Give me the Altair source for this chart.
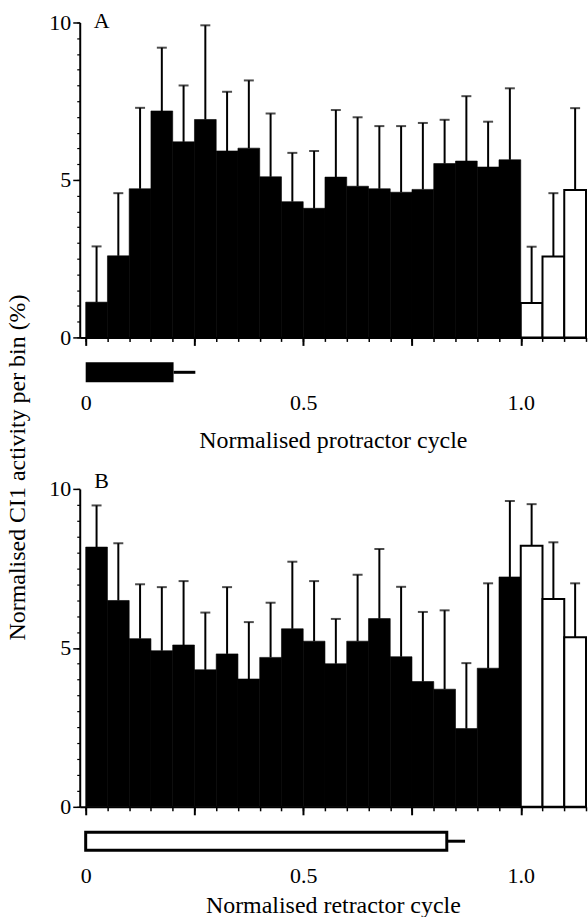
import altair as alt
import pandas as pd

FONT = "Liberation Serif, Times New Roman, Times, serif"

# Bin edges (normalised cycle), 0.05 wide
bin_starts = [0.00, 0.05, 0.10, 0.15, 0.20, 0.25, 0.30, 0.35, 0.40, 0.45,
              0.50, 0.55, 0.60, 0.65, 0.70, 0.75, 0.80, 0.85, 0.90, 0.95]
wrap_starts = [1.00, 1.05, 1.10]

# Panel A: protractor cycle
a_mean = [1.12, 2.59, 4.72, 7.19, 6.21, 6.92, 5.92, 6.01, 5.10, 4.31,
          4.10, 5.09, 4.80, 4.72, 4.61, 4.70, 5.52, 5.60, 5.41, 5.64]
a_upper = [2.89, 4.58, 7.29, 9.20, 8.00, 9.91, 7.80, 8.16, 7.11, 5.86,
           5.92, 7.22, 6.99, 6.71, 6.71, 6.81, 6.91, 7.66, 6.85, 7.91]
a_wrap_mean = [1.09, 2.57, 4.68]
a_wrap_upper = [2.88, 4.58, 7.28]

# Panel B: retractor cycle
b_mean = [8.17, 6.49, 5.29, 4.91, 5.09, 4.31, 4.81, 4.02, 4.70, 5.60,
          5.21, 4.50, 5.21, 5.92, 4.72, 3.94, 3.70, 2.46, 4.36, 7.23]
b_upper = [9.48, 8.29, 7.00, 6.91, 7.10, 6.11, 6.91, 5.81, 6.42, 7.71,
           7.10, 5.91, 7.30, 8.11, 6.92, 6.13, 6.18, 4.52, 7.03, 9.62]
b_wrap_mean = [8.21, 6.54, 5.33]
b_wrap_upper = [9.52, 8.32, 7.03]

# Phase indicators (start, end of bar, end of whisker)
a_phase = [0.0, 0.202, 0.252]
b_phase = [0.0, 0.830, 0.872]

x_minor_ticks = [0.00, 0.05, 0.10, 0.15, 0.20, 0.25, 0.30, 0.35, 0.40, 0.45,
                 0.50, 0.55, 0.60, 0.65, 0.70, 0.75, 0.80, 0.85, 0.90, 0.95,
                 1.00, 1.05, 1.10, 1.15]
x_major_ticks = [0.0, 0.25, 0.5, 0.75, 1.0]
y_major_ticks = [0, 5, 10]
y_minor_ticks = [0, 0.5, 1, 1.5, 2, 2.5, 3, 3.5, 4, 4.5, 5, 5.5, 6, 6.5,
                 7, 7.5, 8, 8.5, 9, 9.5, 10]

W = 508
BW = 0.05


def make_df(starts, mean, upper):
    return pd.DataFrame({
        "start": starts,
        "end": [s + BW for s in starts],
        "center": [s + BW / 2 for s in starts],
        "mean": mean,
        "upper": upper,
    })


def panel(mean, upper, wmean, wupper, phase, phase_filled, letter, letter_y,
          xtitle, ytitle, label_pad, title_pad, height):
    xs = alt.Scale(domain=[-0.0137, 1.15], nice=False, zero=False)
    ys = alt.Scale(domain=[0, 10], nice=False)

    main = make_df(bin_starts, mean, upper)
    wrap = make_df(wrap_starts, wmean, wupper)
    both = pd.concat([main, wrap], ignore_index=True)

    x_major_axis = alt.Axis(
        orient="bottom",
        values=x_major_ticks, tickSize=8, tickWidth=2, tickColor="black",
        domain=True, domainWidth=2, domainColor="black", grid=False,
        labelExpr="datum.value == 0 ? '0' : (datum.value == 0.5 ? '0.5' : (datum.value == 1 ? '1.0' : ''))",
        labelFont=FONT, labelFontSize=22, labelColor="black", labelPadding=label_pad,
        labelFlush=False, labelOverlap=False, labelBaseline="top",
        title=xtitle, titleFont=FONT, titleFontSize=24, titleFontWeight="normal",
        titleColor="black", titlePadding=title_pad,
    )
    x_minor_axis = alt.Axis(
        orient="bottom",
        values=x_minor_ticks, tickSize=4, tickWidth=1.5, tickColor="black",
        domain=False, labels=False, grid=False, title=None,
    )
    y_axis_kwargs = dict(
        orient="left",
        values=y_major_ticks, tickSize=7, tickWidth=1.5, tickColor="black",
        domain=True, domainWidth=2, domainColor="black", grid=False,
        labelFont=FONT, labelFontSize=22, labelColor="black", labelPadding=2,
        labelFlush=False,
    )
    if ytitle:
        y_major_axis = alt.Axis(
            title=ytitle, titleFont=FONT, titleFontSize=24, titleFontWeight="normal",
            titleColor="black", titleX=-62, titleY=446, titleAngle=270,
            titleAlign="center", titleBaseline="middle", **y_axis_kwargs)
    else:
        y_major_axis = alt.Axis(title=None, **y_axis_kwargs)
    y_minor_axis = alt.Axis(
        orient="left",
        values=y_minor_ticks, tickSize=3, tickWidth=1.2, tickColor="black",
        domain=False, labels=False, grid=False, title=None,
    )

    black_bars = alt.Chart(main).mark_rect(
        color="black", stroke="black", strokeWidth=0.6
    ).encode(
        x=alt.X("start:Q", scale=xs, axis=x_major_axis),
        x2="end:Q",
        y=alt.Y("mean:Q", scale=ys, axis=y_major_axis),
        y2=alt.datum(0),
    )
    white_bars = alt.Chart(wrap).mark_rect(
        fill="white", stroke="black", strokeWidth=2
    ).encode(
        x=alt.X("start:Q", scale=xs, axis=x_minor_axis),
        x2="end:Q",
        y=alt.Y("mean:Q", scale=ys, axis=y_minor_axis),
        y2=alt.datum(0),
    )
    err = alt.Chart(both).mark_rule(color="black", strokeWidth=2).encode(
        x=alt.X("center:Q", scale=xs, axis=None),
        y=alt.Y("mean:Q", scale=ys, axis=None),
        y2="upper:Q",
    )
    caps = alt.Chart(both).mark_tick(
        color="black", orient="horizontal", size=10, thickness=2
    ).encode(
        x=alt.X("center:Q", scale=xs, axis=None),
        y=alt.Y("upper:Q", scale=ys, axis=None),
    )

    ph = pd.DataFrame({"start": [phase[0]], "end": [phase[1]], "wend": [phase[2]]})
    if phase_filled:
        phase_bar = alt.Chart(ph).mark_rect(color="black").encode(
            x=alt.X("start:Q", scale=xs, axis=None), x2="end:Q",
            y=alt.value(height + 25), y2=alt.value(height + 45),
        )
        wy = height + 35
    else:
        phase_bar = alt.Chart(ph).mark_rect(
            fill="white", stroke="black", strokeWidth=3
        ).encode(
            x=alt.X("start:Q", scale=xs, axis=None), x2="end:Q",
            y=alt.value(height + 25.5), y2=alt.value(height + 43.5),
        )
        wy = height + 34.5
    whisker = alt.Chart(ph).mark_rule(color="black", strokeWidth=3).encode(
        x=alt.X("end:Q", scale=xs, axis=None), x2="wend:Q", y=alt.value(wy),
    )

    lab = alt.Chart(pd.DataFrame({"t": [letter]})).mark_text(
        font=FONT, fontSize=22, color="black", align="center", baseline="middle"
    ).encode(text="t:N", x=alt.value(22), y=alt.value(letter_y))

    return alt.layer(
        black_bars, white_bars, err, caps, phase_bar, whisker, lab
    ).resolve_axis(x="independent", y="independent").properties(width=W, height=height)


panel_a = panel(a_mean, a_upper, a_wrap_mean, a_wrap_upper, a_phase, True, "A", -1,
                "Normalised protractor cycle",
                "Normalised CI1 activity per bin (%)", 47, 15, 316)
panel_b = panel(b_mean, b_upper, b_wrap_mean, b_wrap_upper, b_phase, False, "B", -8,
                "Normalised retractor cycle", None, 51, 7, 319)

chart = alt.vconcat(panel_a, panel_b, spacing=152, bounds="flush").properties(
    padding={"left": 6, "top": 9, "right": 0, "bottom": 0},
    background="white",
).configure_view(stroke=None)

chart.save("out.html", embed_options={"renderer": "svg", "actions": False})
